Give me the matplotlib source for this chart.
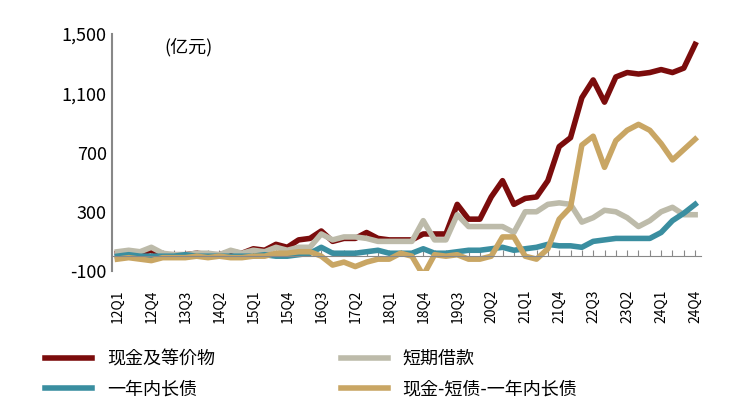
import matplotlib
matplotlib.use("Agg")
import matplotlib.pyplot as plt

plt.rcParams["font.family"] = ["Noto Sans CJK JP", "Noto Sans CJK SC", "DejaVu Sans"]
plt.rcParams["axes.unicode_minus"] = False

# 12Q1 .. 24Q4
quarters = [f"{y}Q{q}" for y in range(12, 25) for q in range(1, 5)]
tick_labels = quarters[::3]

cash = [20, 30, 20, 40, 10, 10, 10, 20, 10, 10, 30, 20, 50, 40, 80, 60, 110, 120,
        170, 100, 120, 120, 160, 120, 110, 110, 110, 150, 150, 150, 350, 250, 250,
        400, 510, 350, 390, 400, 510, 740, 800, 1070, 1190, 1040, 1210, 1240, 1230,
        1240, 1260, 1240, 1270, 1430]
short_debt = [30, 40, 30, 60, 20, 10, 10, 20, 20, 10, 40, 20, 40, 30, 60, 40, 60, 60,
              150, 110, 130, 130, 120, 100, 100, 100, 100, 240, 110, 110, 280, 200, 200,
              200, 200, 160, 300, 300, 350, 360, 350, 230, 260, 310, 300, 260, 200,
              240, 300, 330, 280, 280]
long_debt = [0, 10, 0, 0, 0, 0, 10, 0, 0, 0, 0, 0, 0, 10, 0, 0, 10, 20,
             60, 20, 20, 20, 30, 40, 20, 20, 20, 50, 20, 20, 30, 40, 40,
             50, 60, 40, 50, 60, 80, 70, 70, 60, 100, 110, 120, 120, 120,
             120, 160, 240, 290, 350]
net_cash = [-20, -10, -20, -30, -10, -10, -10, 0, -10, 0, -10, -10, 0, 0, 20, 20, 30, 30,
            0, -60, -40, -70, -40, -20, -20, 20, 0, -130, 10, 0, 10, -20, -20,
            0, 130, 130, 0, -20, 50, 250, 330, 750, 810, 600, 780, 850, 890,
            850, 760, 650, 720, 790]

fig = plt.figure(figsize=(7.3, 4.15), dpi=100)
ax = fig.add_axes([0.153, 0.347, 0.807, 0.571])
x = range(len(quarters))
l_cash, = ax.plot(x, cash, color="#7B0C0C", lw=4, label="现金及等价物")
l_short, = ax.plot(x, short_debt, color="#BDBBAA", lw=4, label="短期借款")
l_long, = ax.plot(x, long_debt, color="#3A8EA0", lw=4, label="一年内长债")
l_net, = ax.plot(x, net_cash, color="#C9A664", lw=4, label="现金-短债-一年内长债")

ax.set_ylim(-100, 1500)
ax.set_yticks([-100, 300, 700, 1100, 1500])
ax.set_yticklabels(["-100", "300", "700", "1,100", "1,500"], fontsize=13)
ax.set_xlim(-0.5, len(quarters) - 0.5)
ax.set_xticks(range(len(quarters)))
ax.set_xticklabels([q if q in tick_labels else "" for q in quarters], fontsize=11)
ax.tick_params(axis="x", labelrotation=90, direction="in", length=4,
               color="#888888", pad=24)
ax.spines["bottom"].set_position(("data", 0))
ax.spines["bottom"].set_color("#888888")
ax.spines["left"].set_color("#888888")
ax.spines["left"].set_linewidth(1.5)
for s in ("top", "right"):
    ax.spines[s].set_visible(False)
ax.tick_params(axis="y", length=0)
ax.text(0.09, 0.985, "(亿元)", transform=ax.transAxes, fontsize=13, va="top")

fig.legend([l_cash, l_long, l_short, l_net],
           [l.get_label() for l in (l_cash, l_long, l_short, l_net)],
           loc="lower left", bbox_to_anchor=(0.04, 0.0), ncol=2, frameon=False,
           fontsize=13, handlelength=2.6, columnspacing=7, labelspacing=0.7)
fig.savefig("out.png", dpi=100)
